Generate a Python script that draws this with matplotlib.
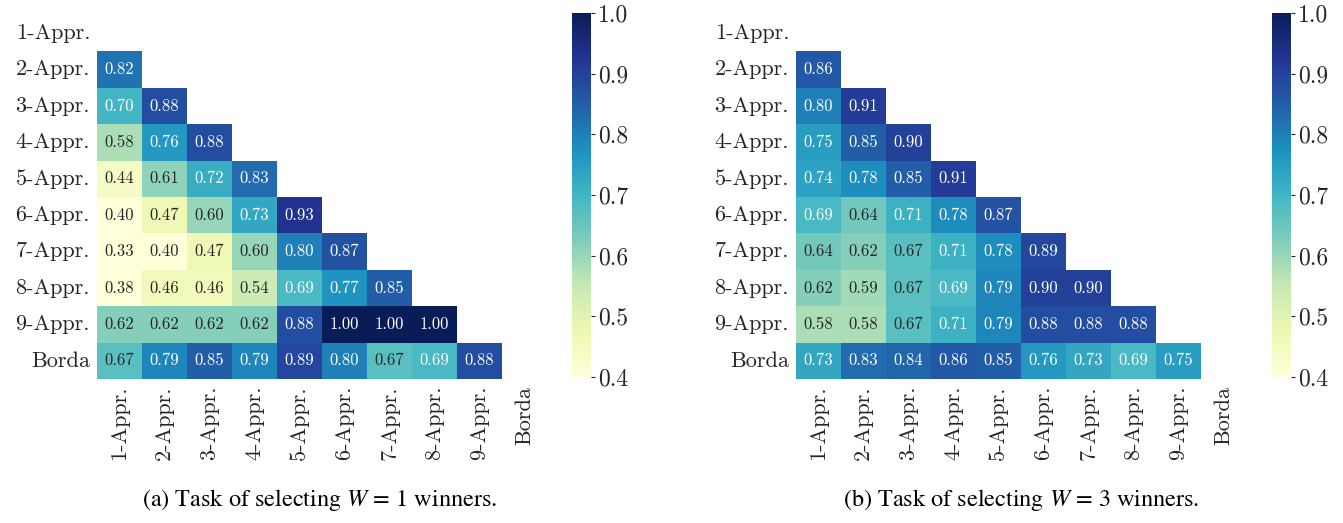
import numpy as np
import matplotlib
matplotlib.use('Agg')
import matplotlib.pyplot as plt
import seaborn as sns
from matplotlib import font_manager

plt.rcParams['font.family'] = ['cmr10', 'DejaVu Serif']
plt.rcParams['mathtext.fontset'] = 'cm'
plt.rcParams['axes.formatter.use_mathtext'] = True

etiquetas = ['1-Appr.', '2-Appr.', '3-Appr.', '4-Appr.', '5-Appr.',
             '6-Appr.', '7-Appr.', '8-Appr.', '9-Appr.', 'Borda']

# Triangulo inferior, fila por fila (desde 2-Appr.)
filas_w1 = [
    [0.82],
    [0.70, 0.88],
    [0.58, 0.76, 0.88],
    [0.44, 0.61, 0.72, 0.83],
    [0.40, 0.47, 0.60, 0.73, 0.93],
    [0.33, 0.40, 0.47, 0.60, 0.80, 0.87],
    [0.38, 0.46, 0.46, 0.54, 0.69, 0.77, 0.85],
    [0.62, 0.62, 0.62, 0.62, 0.88, 1.00, 1.00, 1.00],
    [0.67, 0.79, 0.85, 0.79, 0.89, 0.80, 0.67, 0.69, 0.88],
]

filas_w3 = [
    [0.86],
    [0.80, 0.91],
    [0.75, 0.85, 0.90],
    [0.74, 0.78, 0.85, 0.91],
    [0.69, 0.64, 0.71, 0.78, 0.87],
    [0.64, 0.62, 0.67, 0.71, 0.78, 0.89],
    [0.62, 0.59, 0.67, 0.69, 0.79, 0.90, 0.90],
    [0.58, 0.58, 0.67, 0.71, 0.79, 0.88, 0.88, 0.88],
    [0.73, 0.83, 0.84, 0.86, 0.85, 0.76, 0.73, 0.69, 0.75],
]

titulos = [r'(a) Task of selecting $W$ = 1 winners.',
           r'(b) Task of selecting $W$ = 3 winners.']


def armar_matriz(filas):
    n = len(etiquetas)
    m = np.ones((n, n))
    for i, fila in enumerate(filas):
        m[i + 1, :len(fila)] = fila
    return m


mask = np.triu(np.ones((10, 10), dtype=bool))

fig = plt.figure(figsize=(13.43, 5.23), dpi=100)
W, H = 1343, 523

posiciones = [(97, 572, 320), (796, 1272, 1021)]

fuente_titulo = font_manager.FontProperties(family='STIXGeneral', size=17.5,
                                            math_fontfamily='stix')

for filas, titulo, (x_hm, x_cb, x_tit) in zip([filas_w1, filas_w3], titulos, posiciones):
    ax = fig.add_axes([x_hm / W, (H - 379) / H, 450 / W, 364 / H])
    cax = fig.add_axes([x_cb / W, (H - 377) / H, 19 / W, 364 / H])
    sns.heatmap(armar_matriz(filas), mask=mask, cmap='YlGnBu', vmin=0.4, vmax=1.0,
                annot=True, fmt='.2f', annot_kws={'size': 12},
                xticklabels=etiquetas, yticklabels=etiquetas,
                ax=ax, cbar_ax=cax)
    ax.tick_params(length=0, labelsize=16, colors='#262626', pad=5)
    ax.set_xticklabels(etiquetas, rotation=90)
    ax.set_yticklabels(etiquetas, rotation=0)
    cax.set_yticks([0.4, 0.5, 0.6, 0.7, 0.8, 0.9, 1.0])
    cax.set_yticklabels(['0.4', '0.5', '0.6', '0.7', '0.8', '0.9', '1.0'])
    cax.tick_params(labelsize=17, colors='#262626', length=3, pad=2)
    fig.text(x_tit / W, 23 / H, titulo, ha='center', va='center',
             fontproperties=fuente_titulo)

plt.savefig('out.png', dpi=100)
